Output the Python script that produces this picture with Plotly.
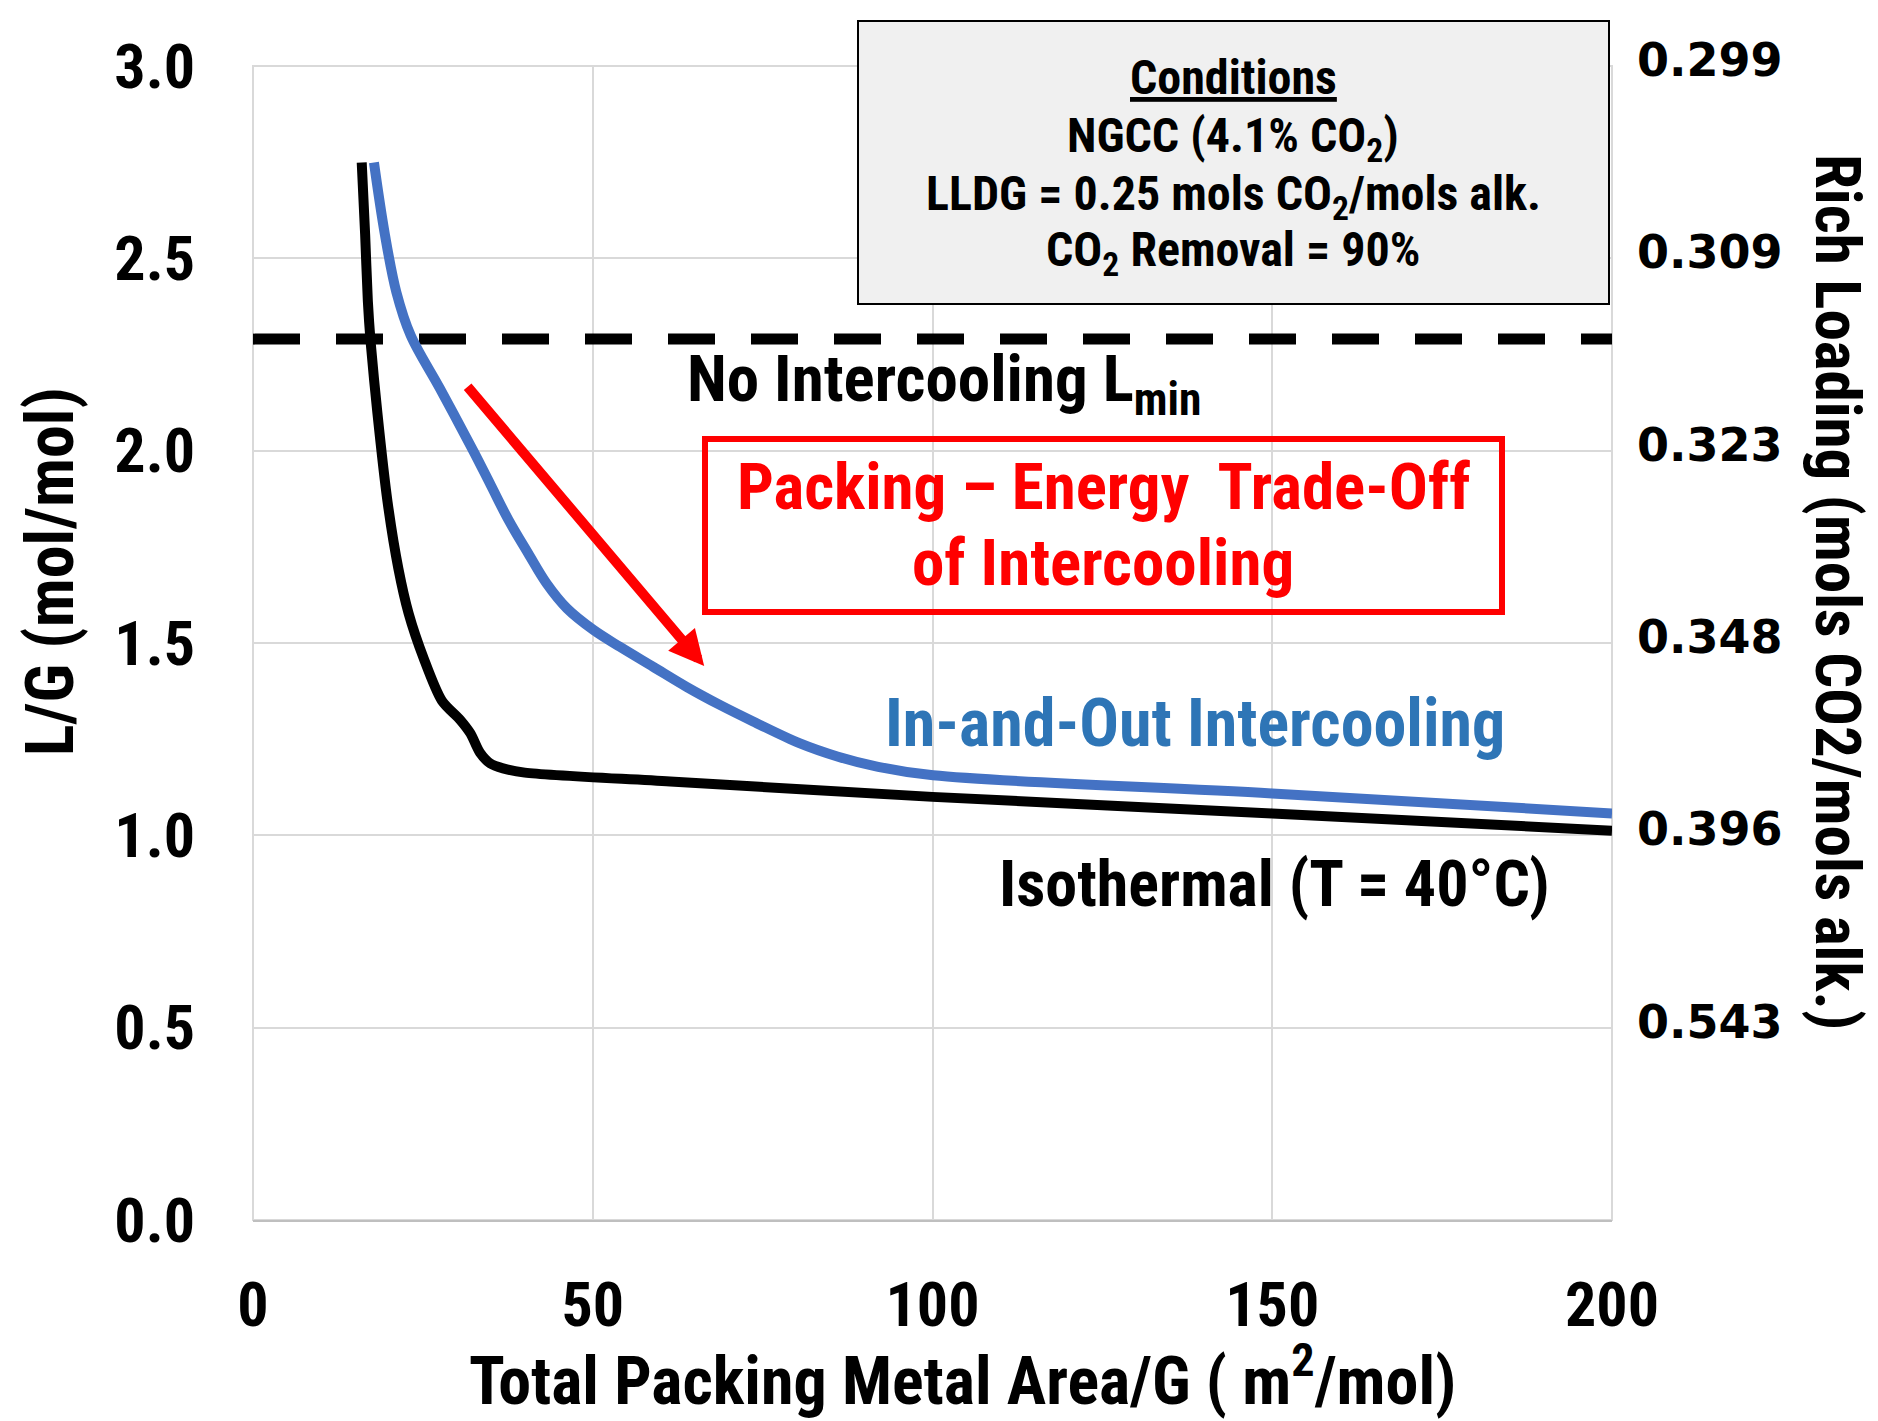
import plotly.graph_objects as go

# ---------------- data ----------------
iso_x = [16.0, 16.5, 16.9, 17.3, 18.3, 19.8, 21.4, 22.9, 25.1, 27.8, 30.5, 32.0, 33.4, 34.9, 36.8, 40.0, 61.4, 100.0, 150.0, 200.0]
iso_y = [2.749, 2.563, 2.389, 2.285, 2.099, 1.867, 1.693, 1.577, 1.461, 1.350, 1.300, 1.265, 1.215, 1.187, 1.174, 1.163, 1.140, 1.100, 1.057, 1.012]

ioc_x = [17.8, 19.4, 21.1, 23.2, 27.5, 32.4, 35.0, 37.6, 40.5, 43.2, 46.2, 50.1, 54.0, 58.9, 63.8, 68.7, 73.6, 80.5, 86.0, 92.0, 100.1, 150.0, 200.0]
ioc_y = [2.749, 2.563, 2.412, 2.300, 2.162, 2.000, 1.910, 1.820, 1.733, 1.655, 1.590, 1.534, 1.490, 1.438, 1.386, 1.339, 1.296, 1.239, 1.205, 1.178, 1.156, 1.109, 1.057]

lmin_x = [0.0, 200.0]
lmin_y = [2.29, 2.29]

x_ticks = [0, 50, 100, 150, 200]
y_ticks = [0.0, 0.5, 1.0, 1.5, 2.0, 2.5, 3.0]
y_tick_text = ["0.0", "0.5", "1.0", "1.5", "2.0", "2.5", "3.0"]
rich_tick_vals = [0.5, 1.0, 1.5, 2.0, 2.5, 3.0]
rich_tick_text = ["0.543", "0.396", "0.348", "0.323", "0.309", "0.299"]

arrow_tail = (31.4, 2.17)
arrow_tip = (66.4, 1.44)

# ---------------- layout helpers ----------------
W, H = 1878, 1421
PL, PR, PT, PB = 253, 1612, 66, 1220
FONT = "Liberation Sans Narrow, Roboto Condensed, Roboto, sans-serif"
TICKFONT_R = "DejaVu Sans, Verdana, sans-serif"


def fx(px):
    return (px - PL) / (PR - PL)


def fy(py):
    return (PB - py) / (PB - PT)


fig = go.Figure()

fig.add_trace(go.Scatter(x=lmin_x, y=lmin_y, mode="lines",
                         line=dict(color="black", width=11, dash="47px,36px"),
                         showlegend=False, hoverinfo="skip"))
fig.add_trace(go.Scatter(x=iso_x, y=iso_y, mode="lines",
                         line=dict(color="black", width=10, shape="spline", smoothing=0.8),
                         showlegend=False))
fig.add_trace(go.Scatter(x=ioc_x, y=ioc_y, mode="lines",
                         line=dict(color="#4472C4", width=10, shape="spline", smoothing=1.0),
                         showlegend=False))
# invisible trace to activate right axis
fig.add_trace(go.Scatter(x=[None], y=[None], yaxis="y2", showlegend=False, hoverinfo="skip"))

bold = dict(family=FONT, weight="bold", color="black")

fig.update_layout(
    width=W, height=H, autosize=False,
    margin=dict(l=PL, r=W - PR, t=PT, b=H - PB, pad=0),
    plot_bgcolor="white", paper_bgcolor="white",
    showlegend=False,
    xaxis=dict(range=[0, 200], tickvals=x_ticks, ticktext=[str(v) for v in x_ticks],
               showgrid=True, gridcolor="#d9d9d9", gridwidth=2, zeroline=False,
               showline=True, linecolor="#bfbfbf", linewidth=2,
               ticks="", ticklabelstandoff=30,
               tickfont=dict(size=62, **bold)),
    yaxis=dict(range=[0, 3.0], tickvals=y_ticks, ticktext=y_tick_text,
               showgrid=True, gridcolor="#d9d9d9", gridwidth=2, zeroline=False,
               showline=False, ticks="", ticklabelstandoff=57,
               tickfont=dict(size=62, **bold)),
    yaxis2=dict(range=[0, 3.0], overlaying="y", side="right", tickvals=rich_tick_vals,
                ticktext=rich_tick_text, showgrid=False, zeroline=False, showline=False,
                ticks="", ticklabelstandoff=24, ticklabelshift=-6,
                tickfont=dict(size=46, family=TICKFONT_R, weight="bold", color="black")),
)

shapes = [
    # plot-area frame (light grid colour)
    dict(type="rect", xref="paper", yref="paper", x0=0, x1=1, y0=0, y1=1,
         fillcolor="rgba(0,0,0,0)", line=dict(color="#d9d9d9", width=2), layer="below"),
    # conditions box
    dict(type="rect", xref="paper", yref="paper", x0=fx(858), x1=fx(1609), y0=fy(304), y1=fy(21),
         fillcolor="#F0F0F0", line=dict(color="black", width=2), layer="above"),
    # red box
    dict(type="rect", xref="paper", yref="paper", x0=fx(705), x1=fx(1502), y0=fy(612), y1=fy(439),
         fillcolor="rgba(0,0,0,0)", line=dict(color="#FF0000", width=6), layer="above"),
]
fig.update_layout(shapes=shapes)

ann = []


def text(s, px, py, size, color="black", xanchor="center", yanchor="middle", angle=0):
    ann.append(dict(text=s, x=fx(px), y=fy(py), xref="paper", yref="paper",
                    xanchor=xanchor, yanchor=yanchor, showarrow=False, textangle=angle,
                    font=dict(family=FONT, size=size, color=color, weight="bold")))


text("No Intercooling L<sub>min</sub>", 685, 383, 65, xanchor="left")
text("Packing \u2013 Energy\u00a0 Trade-Off", 1103, 487, 65, color="#FF0000")
text("of Intercooling", 1103, 563, 65, color="#FF0000")
text("In-and-Out Intercooling", 1507, 723, 66, color="#2E75B6", xanchor="right")
text("Isothermal (T = 40\u00b0C)", 1552, 884, 64, xanchor="right")

text("<u>Conditions</u>", 1233, 77, 48)
text("NGCC (4.1% CO<sub>2</sub>)", 1233, 138, 48)
text("LLDG = 0.25 mols CO<sub>2</sub>/mols alk.", 1233, 196, 48)
text("CO<sub>2</sub> Removal = 90%", 1233, 253, 48)

text("L/G (mol/mol)", 50, 572, 66, angle=-90)
text("Rich Loading (mols CO2/mols alk.)", 1838, 592, 63, angle=90)
text("Total Packing Metal Area/G ( m<sup>2</sup>/mol)", 962, 1376, 66)

# arrow
ann.append(dict(x=arrow_tip[0], y=arrow_tip[1], ax=arrow_tail[0], ay=arrow_tail[1],
                xref="x", yref="y", axref="x", ayref="y", text="", showarrow=True,
                arrowhead=2, arrowsize=0.7, arrowwidth=10, arrowcolor="#FF0000", standoff=0))

fig.update_layout(annotations=ann)

fig.write_html("out.html")
